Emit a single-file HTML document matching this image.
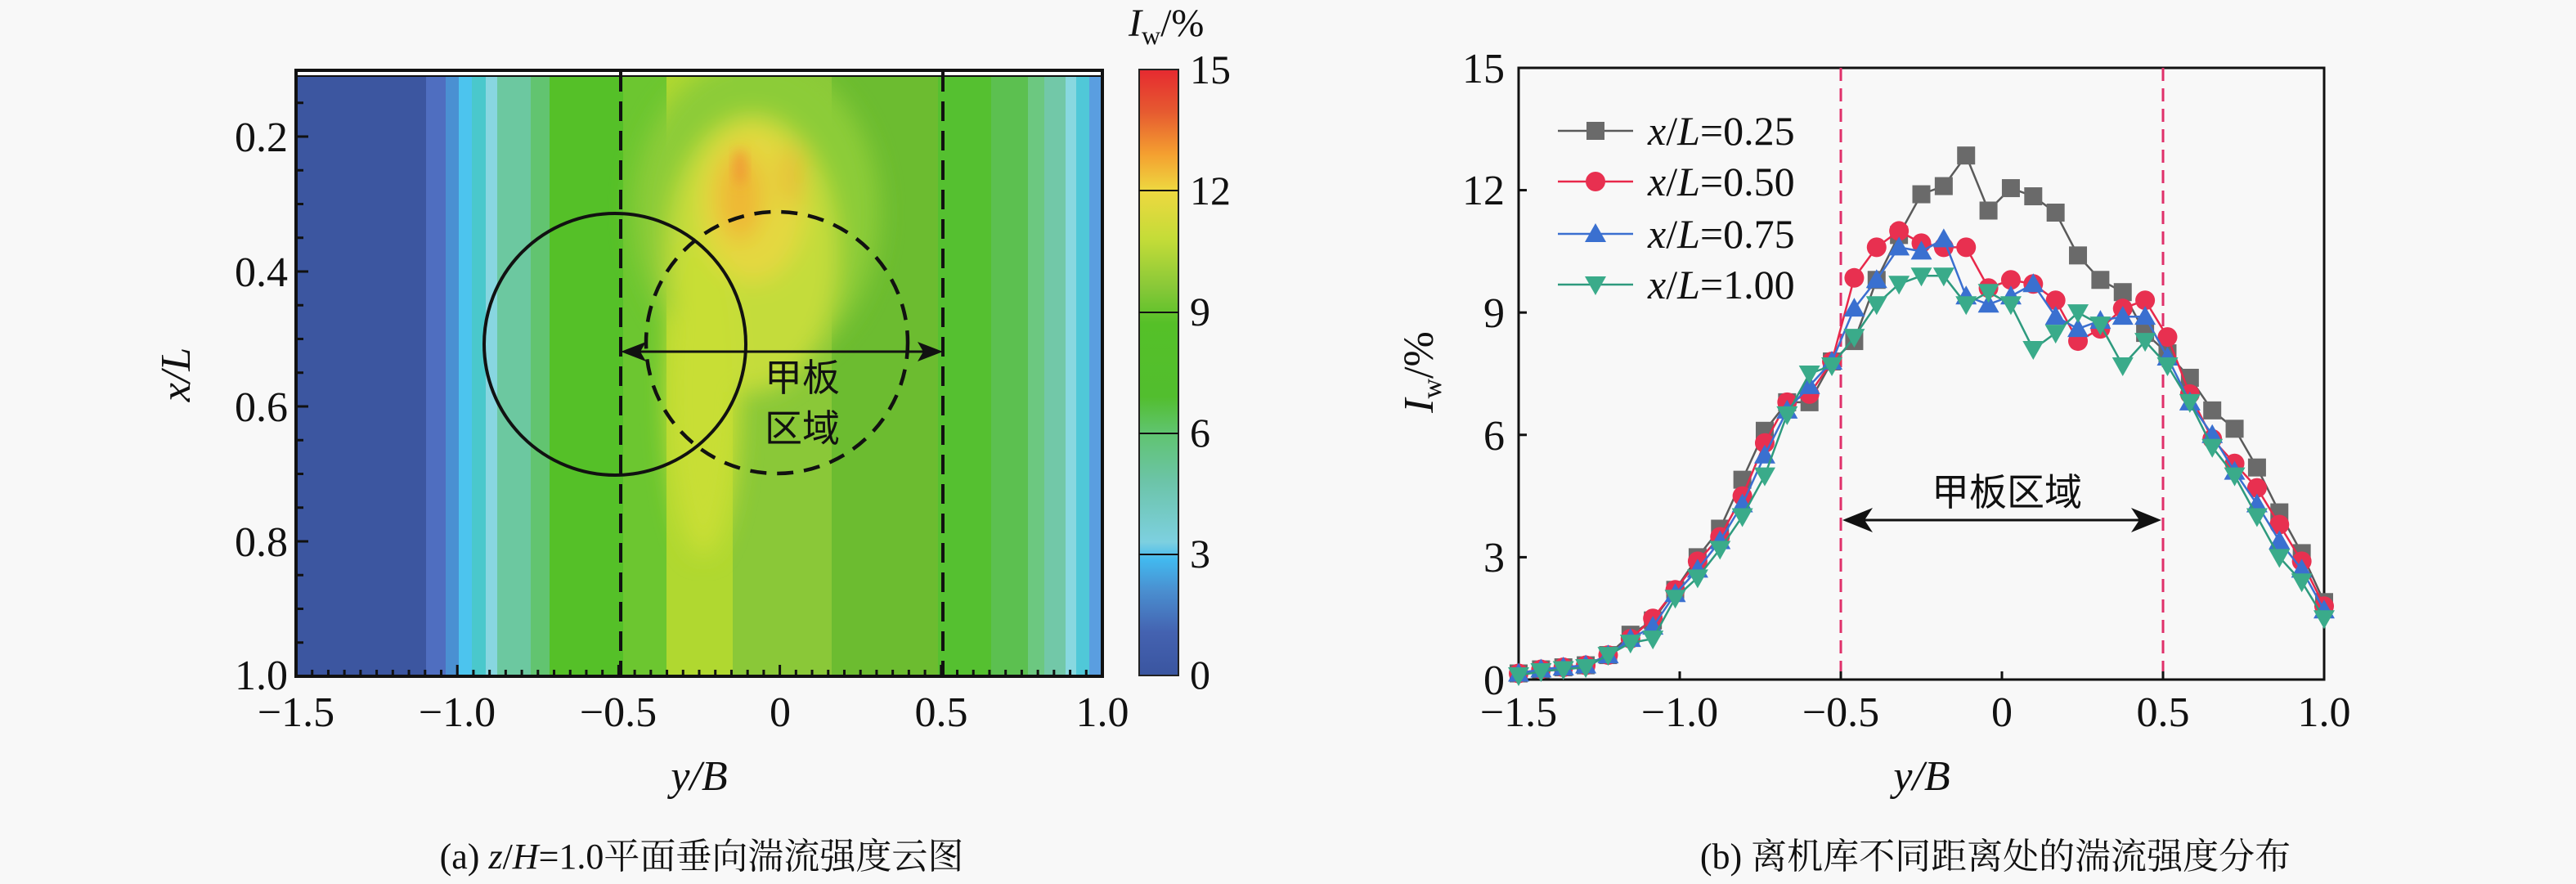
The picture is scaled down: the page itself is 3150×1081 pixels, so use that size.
<!DOCTYPE html>
<html><head><meta charset="utf-8"><style>
html,body{margin:0;padding:0;background:#f8f8f8}
svg{display:block;font-family:"Liberation Serif",serif}
text{font-family:"Liberation Serif","Noto Serif CJK SC",serif;fill:#111}
text.cjk{font-family:"Noto Sans CJK SC",sans-serif}
</style></head><body>
<svg id="s" width="3150" height="1081" viewBox="0 0 3150 1081" xmlns="http://www.w3.org/2000/svg">
<defs>
<filter id="bl" x="-50%" y="-50%" width="200%" height="200%"><feGaussianBlur stdDeviation="14"/></filter>
<filter id="bl2" x="-50%" y="-50%" width="200%" height="200%"><feGaussianBlur stdDeviation="7"/></filter>
<clipPath id="cp"><rect x="363" y="93" width="984" height="734"/></clipPath>
<linearGradient id="cb" x1="0" y1="1" x2="0" y2="0">
<stop offset="0" stop-color="#3a55a0"/><stop offset="0.07" stop-color="#4462b0"/>
<stop offset="0.14" stop-color="#4a8fd0"/><stop offset="0.19" stop-color="#42b8ee"/>
<stop offset="0.22" stop-color="#7dd0e0"/><stop offset="0.32" stop-color="#6cc4a8"/>
<stop offset="0.40" stop-color="#60c470"/><stop offset="0.46" stop-color="#52be2e"/>
<stop offset="0.58" stop-color="#55c028"/><stop offset="0.64" stop-color="#88c838"/>
<stop offset="0.72" stop-color="#c4dc38"/><stop offset="0.80" stop-color="#eed840"/>
<stop offset="0.86" stop-color="#f4a030"/><stop offset="0.93" stop-color="#e65a30"/>
<stop offset="1" stop-color="#e62a30"/>
</linearGradient>
</defs>
<rect width="3150" height="1081" fill="#f8f8f8"/>
<rect x="362" y="86" width="986" height="741" fill="#fff"/>
<g clip-path="url(#cp)">
<rect x="363" y="93" width="158" height="734" fill="#3c56a0"/>
<rect x="521" y="93" width="24" height="734" fill="#4f6ec0"/>
<rect x="545" y="93" width="16" height="734" fill="#4a90d2"/>
<rect x="561" y="93" width="16" height="734" fill="#4cc4ee"/>
<rect x="577" y="93" width="17" height="734" fill="#4ac8cc"/>
<rect x="594" y="93" width="14" height="734" fill="#88d6e0"/>
<rect x="608" y="93" width="41" height="734" fill="#6cc8a0"/>
<rect x="649" y="93" width="23" height="734" fill="#62c470"/>
<rect x="672" y="93" width="90" height="734" fill="#55c028"/>
<rect x="762" y="93" width="53" height="734" fill="#6cc630"/>
<rect x="815" y="93" width="81" height="734" fill="#b0d830"/>
<rect x="896" y="93" width="121" height="734" fill="#8ac838"/>
<rect x="1017" y="93" width="130" height="734" fill="#6cbc30"/>
<rect x="1147" y="93" width="65" height="734" fill="#55c030"/>
<rect x="1212" y="93" width="45" height="734" fill="#5cc050"/>
<rect x="1257" y="93" width="20" height="734" fill="#6cc880"/>
<rect x="1277" y="93" width="26" height="734" fill="#72c8a8"/>
<rect x="1303" y="93" width="13" height="734" fill="#88d8e0"/>
<rect x="1316" y="93" width="16" height="734" fill="#50c8d8"/>
<rect x="1332" y="93" width="16" height="734" fill="#5a9ee0"/>
<g filter="url(#bl)">
<ellipse cx="925" cy="260" rx="150" ry="190" fill="#8ccc38"/>
<ellipse cx="920" cy="310" rx="105" ry="170" fill="#c4dc3a"/>
<ellipse cx="860" cy="480" rx="45" ry="200" fill="#c8de34"/>
<ellipse cx="920" cy="250" rx="65" ry="95" fill="#e4d840"/>
<ellipse cx="905" cy="240" rx="28" ry="55" fill="#eeb834"/>
<ellipse cx="968" cy="215" rx="15" ry="38" fill="#e8c038"/>
</g>
<ellipse cx="905" cy="205" rx="7" ry="22" fill="#f09a34" filter="url(#bl2)"/>
</g>
<rect x="362" y="86" width="986" height="741" fill="none" stroke="#111" stroke-width="4"/>
<line x1="362" y1="93" x2="1348" y2="93" stroke="#111" stroke-width="2"/>
<g stroke="#111" stroke-width="3" id="lt"></g>
<line x1="759" y1="88" x2="759" y2="827" stroke="#111" stroke-width="4" stroke-dasharray="24,12"/>
<line x1="1153" y1="88" x2="1153" y2="827" stroke="#111" stroke-width="4" stroke-dasharray="24,12"/>
<circle cx="752" cy="421" r="160" fill="none" stroke="#111" stroke-width="4"/>
<circle cx="950" cy="419" r="160" fill="none" stroke="#111" stroke-width="4.5" stroke-dasharray="20,13"/>
<line x1="775" y1="430" x2="1137" y2="430" stroke="#111" stroke-width="3"/>
<polygon points="759,430 790,418 783,430 790,442" fill="#111"/>
<polygon points="1153,430 1122,418 1129,430 1122,442" fill="#111"/>
<text class="cjk" x="981" y="478" font-size="46" text-anchor="middle">甲板</text>
<text class="cjk" x="981" y="540" font-size="46" text-anchor="middle">区域</text>
<g font-size="52" text-anchor="end">
<text x="352" y="185">0.2</text><text x="352" y="350">0.4</text><text x="352" y="515">0.6</text><text x="352" y="680">0.8</text><text x="352" y="843">1.0</text>
</g>
<g font-size="52" text-anchor="middle">
<text x="362" y="888">−1.5</text><text x="559" y="888">−1.0</text><text x="756" y="888">−0.5</text><text x="954" y="888">0</text><text x="1151" y="888">0.5</text><text x="1348" y="888">1.0</text>
</g>
<text x="855" y="966" font-size="52" text-anchor="middle" font-style="italic">y/B</text>
<text transform="translate(232,458) rotate(-90)" font-size="52" text-anchor="middle" font-style="italic">x/L</text>
<text x="858" y="1062" font-size="44" text-anchor="middle">(a) <tspan font-style="italic">z</tspan>/<tspan font-style="italic">H</tspan>=1.0平面垂向湍流强度云图</text>
<rect x="1393" y="85" width="48" height="741" fill="url(#cb)" stroke="#222" stroke-width="2"/>
<g stroke="#111" stroke-width="2">
<line x1="1393" y1="233" x2="1441" y2="233"/><line x1="1393" y1="382" x2="1441" y2="382"/><line x1="1393" y1="530" x2="1441" y2="530"/><line x1="1393" y1="678" x2="1441" y2="678"/></g>
<g font-size="50">
<text x="1455" y="102">15</text><text x="1455" y="250">12</text><text x="1455" y="398">9</text><text x="1455" y="546">6</text><text x="1455" y="694">3</text><text x="1455" y="842">0</text></g>
<text x="1380" y="44" font-size="48"><tspan font-style="italic">I</tspan><tspan font-size="32" dy="10">w</tspan><tspan dy="-10">/%</tspan></text>
<rect x="1857" y="83" width="985" height="748" fill="none" stroke="#111" stroke-width="3"/>
<line x1="2251" y1="83" x2="2251" y2="831" stroke="#e0306a" stroke-width="3" stroke-dasharray="16,9"/>
<line x1="2645" y1="83" x2="2645" y2="831" stroke="#e0306a" stroke-width="3" stroke-dasharray="16,9"/>
<g id="rt" stroke="#111" stroke-width="3"></g>
<g font-size="52" text-anchor="end">
<text x="1840" y="101">15</text><text x="1840" y="250">12</text><text x="1840" y="400">9</text><text x="1840" y="550">6</text><text x="1840" y="699">3</text><text x="1840" y="849">0</text></g>
<g font-size="52" text-anchor="middle">
<text x="1857" y="888">−1.5</text><text x="2054" y="888">−1.0</text><text x="2251" y="888">−0.5</text><text x="2448" y="888">0</text><text x="2645" y="888">0.5</text><text x="2842" y="888">1.0</text></g>
<text x="2350" y="966" font-size="52" text-anchor="middle" font-style="italic">y/B</text>
<text transform="translate(1752,455) rotate(-90)" font-size="52" text-anchor="middle"><tspan font-style="italic">I</tspan><tspan font-size="34" dy="10">w</tspan><tspan dy="-10">/%</tspan></text>
<text class="cjk" x="2454" y="618" font-size="46" text-anchor="middle">甲板区域</text>
<line x1="2268" y1="636" x2="2628" y2="636" stroke="#111" stroke-width="3"/>
<polygon points="2253,636 2290,621 2280,636 2290,651" fill="#111"/>
<polygon points="2643,636 2606,621 2616,636 2606,651" fill="#111"/>
<text x="2440" y="1062" font-size="44" text-anchor="middle">(b) 离机库不同距离处的湍流强度分布</text>
<g id="series"></g>
<g id="legend"></g>
</svg>
<script>
var NS="http://www.w3.org/2000/svg";
function el(p,t,a){var e=document.createElementNS(NS,t);for(var k in a)e.setAttribute(k,a[k]);p.appendChild(e);return e;}
var lt=document.getElementById('lt');
for(var v=0.15;v<=1.0001;v+=0.05){var y=167+(v-0.2)/0.2*165;var L=(Math.abs(v*10-Math.round(v*10))<0.01&&Math.round(v*10)%2==0)?14:8;el(lt,'line',{x1:363,y1:y,x2:363+L,y2:y});}
for(var u=-1.45;u<1.0;u+=0.05){var x=362+(u+1.5)*394.4;var L=(Math.abs(u*2-Math.round(u*2))<0.01)?14:8;el(lt,'line',{x1:x,y1:827,x2:x,y2:827-L});}
var rt=document.getElementById('rt');
for(var i=1;i<5;i++){var y=831-i*3*49.87;el(rt,'line',{x1:1857,y1:y,x2:1867,y2:y});}
for(var i=1;i<5;i++){var x=1857+i*197;el(rt,'line',{x1:x,y1:831,x2:x,y2:821});}
function X(v){return 1857+(v+1.5)*394;}function Y(v){return 831-v*49.87;}
var D=[
["#5a5a5a","#6a6a6a","sq",[0.15,0.25,0.3,0.35,0.6,1.1,1.45,2.2,3.0,3.7,4.9,6.1,6.8,6.8,7.8,8.3,9.8,10.9,11.9,12.1,12.85,11.5,12.05,11.85,11.45,10.4,9.8,9.5,8.5,8.0,7.4,6.6,6.15,5.2,4.1,3.1,1.9]],
["#e8284a","#e83050","ci",[0.15,0.25,0.3,0.35,0.6,1.0,1.5,2.2,2.9,3.5,4.5,5.8,6.8,7.0,7.8,9.85,10.6,11.0,10.7,10.6,10.6,9.6,9.8,9.7,9.3,8.3,8.6,9.1,9.3,8.4,7.0,5.9,5.3,4.7,3.8,2.9,1.8]],
["#3b6fd0","#3a70d0","tu",[0.15,0.25,0.3,0.35,0.6,1.0,1.3,2.1,2.7,3.4,4.3,5.5,6.6,7.2,7.8,9.1,9.8,10.6,10.5,10.8,9.4,9.2,9.4,9.7,8.9,8.6,8.8,8.9,8.9,7.9,6.8,6.0,5.1,4.3,3.4,2.7,1.7]],
["#2e9a7e","#3aab8a","td",[0.1,0.2,0.25,0.3,0.6,0.9,1.0,2.0,2.5,3.2,4.0,5.0,6.5,7.5,7.7,8.4,9.2,9.7,9.9,9.9,9.2,9.5,9.2,8.1,8.5,9.0,8.7,7.7,8.3,7.7,6.8,5.7,5.0,4.0,3.0,2.4,1.5]]];
function mk(g,t,x,y,c){
 if(t=="sq")el(g,'rect',{x:x-11,y:y-11,width:22,height:22,fill:c});
 else if(t=="ci")el(g,'circle',{cx:x,cy:y,r:12,fill:c});
 else if(t=="tu")el(g,'polygon',{points:(x)+","+(y-13)+" "+(x+13)+","+(y+10)+" "+(x-13)+","+(y+10),fill:c});
 else el(g,'polygon',{points:(x)+","+(y+13)+" "+(x+13)+","+(y-10)+" "+(x-13)+","+(y-10),fill:c});}
var sg=document.getElementById('series');
D.forEach(function(s){var p=[];s[3].forEach(function(v,i){p.push(X(-1.5+i*2.5/36).toFixed(1)+","+Y(v).toFixed(1));});
 el(sg,'polyline',{points:p.join(" "),fill:"none",stroke:s[0],"stroke-width":2.5});
 s[3].forEach(function(v,i){mk(sg,s[2],X(-1.5+i*2.5/36),Y(v),s[1]);});});
var lg=document.getElementById('legend');var ly=[160,222,286,348],lb=["0.25","0.50","0.75","1.00"];
D.forEach(function(s,i){el(lg,'line',{x1:1905,y1:ly[i],x2:1997,y2:ly[i],stroke:s[0],"stroke-width":2.5});mk(lg,s[2],1951,ly[i],s[1]);
 var t=el(lg,'text',{x:2015,y:ly[i]+17,"font-size":50});
 var a=el(t,'tspan',{"font-style":"italic"});a.textContent="x";
 t.appendChild(document.createTextNode("/"));
 var b=el(t,'tspan',{"font-style":"italic"});b.textContent="L";
 t.appendChild(document.createTextNode("="+lb[i]));});
</script>
</body></html>
